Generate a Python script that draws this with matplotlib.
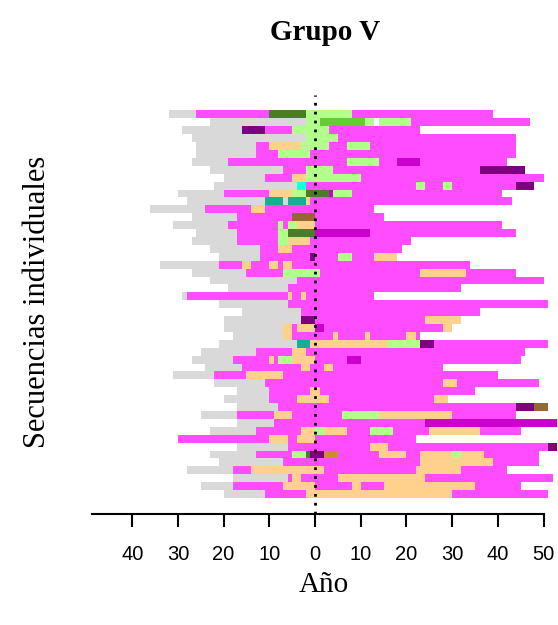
import matplotlib
matplotlib.use("Agg")
import matplotlib.pyplot as plt

# colores de los estados
colores = {
    "G": "#d9d9d9",   # gris
    "M": "#ff4cff",   # magenta
    "MM": "#cc00cc",  # magenta oscuro
    "P": "#7f007f",   # morado
    "L": "#b3ff8c",   # verde claro
    "DG": "#4a7d29",  # verde oscuro
    "BG": "#66cc33",  # verde vivo
    "T": "#ffd18c",   # crema
    "C": "#1affe0",   # cian
    "TE": "#17ae98",  # turquesa
    "B": "#996633",   # marron
    "O": "#cc8c33",   # ocre
}

# secuencias (de arriba a abajo): (estado, inicio, fin)
secuencias = [
    [("G", -32, -26), ("M", -26, -10), ("DG", -10, -2), ("L", -2, 8), ("M", 8, 39)],
    [("G", -23, -2), ("L", -2, 1), ("BG", 1, 11), ("L", 11, 13), ("L", 14, 21), ("M", 21, 47)],
    [("G", -29, -16), ("P", -16, -11), ("M", -11, -5), ("L", -5, 3), ("M", 3, 23)],
    [("G", -27, -2), ("L", -2, 5), ("M", 5, 44)],
    [("G", -26, -13), ("M", -13, -10), ("T", -10, -3), ("L", -3, 3), ("M", 3, 7), ("L", 7, 12), ("M", 12, 44)],
    [("G", -26, -13), ("M", -13, -8), ("L", -8, -1), ("M", -1, 44)],
    [("G", -27, -19), ("M", -19, 7), ("L", 7, 14), ("M", 14, 18), ("MM", 18, 23), ("M", 23, 42)],
    [("G", -23, -7), ("M", -7, -2), ("L", -2, 4), ("M", 4, 36), ("P", 36, 46)],
    [("G", -20, -11), ("M", -11, -5), ("T", -5, -2), ("L", -2, 10), ("M", 10, 50)],
    [("G", -22, -4), ("C", -4, -2), ("M", -2, 22), ("L", 22, 24), ("M", 24, 28), ("L", 28, 30), ("M", 30, 44), ("P", 44, 48)],
    [("G", -30, -20), ("M", -20, -10), ("T", -10, -5), ("L", -5, -2), ("DG", -2, 3), ("MM", 3, 4), ("L", 4, 8), ("M", 8, 41)],
    [("G", -28, -11), ("TE", -11, -7), ("G", -7, -6), ("TE", -6, -2), ("T", -2, -1), ("M", -1, 43)],
    [("G", -36, -24), ("M", -24, -14), ("T", -14, -11), ("M", -11, 13)],
    [("G", -27, -17), ("M", -17, -5), ("B", -5, 0), ("M", 0, 15)],
    [("G", -31, -19), ("M", -19, -8), ("L", -8, -7), ("M", -7, -6), ("L", -6, -4), ("T", -4, 0), ("M", 0, 41)],
    [("G", -26, -17), ("M", -17, -8), ("L", -8, -6), ("DG", -6, 0), ("MM", 0, 12), ("M", 12, 44)],
    [("G", -27, -17), ("M", -17, -8), ("L", -8, -6), ("T", -6, -1), ("M", -1, 21)],
    [("G", -23, -12), ("M", -12, -8), ("T", -8, -5), ("M", -5, 19)],
    [("G", -21, -12), ("M", -12, -1), ("P", -1, 0), ("M", 0, 5), ("L", 5, 8), ("M", 8, 13), ("T", 13, 18)],
    [("G", -34, -21), ("M", -21, -16), ("T", -16, -14), ("M", -14, -10), ("T", -10, -8), ("M", -8, -7), ("T", -7, -5), ("M", -5, 34)],
    [("G", -27, -15), ("M", -15, -7), ("L", -7, 1), ("M", 1, 23), ("T", 23, 33), ("M", 33, 44)],
    [("G", -23, -4), ("M", -4, 50)],
    [("G", -19, -6), ("M", -6, 32)],
    [("G", -29, -28), ("M", -28, -6), ("T", -6, -5), ("M", -5, -3), ("T", -3, -2), ("M", -2, 13)],
    [("G", -21, -6), ("M", -6, 51)],
    [("G", -16, -3), ("M", -3, 36)],
    [("G", -20, -3), ("P", -3, 0), ("M", 0, 24), ("T", 24, 32)],
    [("G", -20, -7), ("T", -7, -5), ("M", -5, -4), ("T", -4, 0), ("MM", 0, 2), ("M", 2, 28), ("T", 28, 30)],
    [("G", -18, -7), ("T", -7, -5), ("M", -5, 4), ("T", 4, 5), ("M", 5, 11), ("T", 11, 12), ("M", 12, 20), ("T", 20, 22), ("M", 22, 23)],
    [("G", -21, -4), ("TE", -4, -1), ("T", -1, 16), ("L", 16, 23), ("P", 23, 26), ("M", 26, 51)],
    [("G", -25, -13), ("M", -13, -5), ("T", -5, -2), ("M", -2, 46)],
    [("G", -27, -18), ("M", -18, -10), ("T", -10, -9), ("M", -9, -8), ("L", -8, -5), ("T", -5, 0), ("M", 0, 7), ("MM", 7, 10), ("M", 10, 45)],
    [("G", -24, -16), ("M", -16, -3), ("T", -3, -1), ("M", -1, 2), ("T", 2, 4), ("M", 4, 28)],
    [("G", -31, -22), ("M", -22, -15), ("T", -15, -7), ("M", -7, 40)],
    [("G", -22, -11), ("M", -11, 28), ("T", 28, 31), ("M", 31, 49)],
    [("G", -17, -10), ("M", -10, -1), ("T", -1, 1), ("M", 1, 35)],
    [("G", -20, -10), ("M", -10, -4), ("T", -4, 3), ("M", 3, 26), ("T", 26, 29)],
    [("G", -17, -8), ("M", -8, 44), ("P", 44, 48), ("B", 48, 51)],
    [("G", -25, -17), ("M", -17, -9), ("T", -9, -5), ("M", -5, 6), ("L", 6, 14), ("T", 14, 30), ("M", 30, 44)],
    [("G", -17, -9), ("M", -9, 24), ("MM", 24, 53)],
    [("G", -23, -13), ("M", -13, -3), ("T", -3, 0), ("L", 0, 2), ("T", 2, 7), ("M", 7, 12), ("L", 12, 17), ("M", 17, 25), ("T", 25, 36), ("M", 36, 45)],
    [("M", -30, -10), ("T", -10, -6), ("M", -6, -4), ("T", -4, 0), ("M", 0, 22)],
    [("G", -17, -6), ("M", -6, 12), ("T", 12, 16), ("M", 16, 51), ("P", 51, 53)],
    [("G", -23, -13), ("M", -13, -5), ("L", -5, -2), ("DG", -2, -1), ("P", -1, 2), ("O", 2, 5), ("M", 5, 14), ("T", 14, 20), ("M", 20, 23), ("T", 23, 30), ("L", 30, 32), ("T", 32, 37), ("M", 37, 49)],
    [("G", -21, -7), ("M", -7, 23), ("T", 23, 39), ("M", 39, 49)],
    [("G", -28, -18), ("M", -18, -14), ("T", -14, 2), ("M", 2, 22), ("T", 22, 32), ("M", 32, 42)],
    [("G", -18, -6), ("M", -6, -5), ("T", -5, -3), ("M", -3, 5), ("T", 5, 24), ("M", 24, 52)],
    [("G", -25, -18), ("M", -18, -7), ("T", -7, 0), ("M", 0, 8), ("T", 8, 10), ("M", 10, 15), ("T", 15, 35), ("M", 35, 45)],
    [("G", -20, -11), ("M", -11, -2), ("T", -2, 30), ("M", 30, 51)],
]

ticks = [-40, -30, -20, -10, 0, 10, 20, 30, 40, 50]
tick_labels = [str(abs(t)) for t in ticks]

fig = plt.figure(figsize=(5.58, 6.25), dpi=100)
ax = fig.add_axes([0, 111 / 625, 1, 419 / 625])

n = len(secuencias)
for i, fila in enumerate(secuencias):
    y = n - i - 0.5
    for estado, ini, fin in fila:
        ax.barh(y, fin - ini, left=ini, height=1, color=colores[estado], linewidth=0)

ax.axvline(0, color="black", linestyle=(0, (1, 2.2)), linewidth=2, zorder=5)

ax.set_xlim(-68.93, 53.17)
ax.set_ylim(-2.02, 50.95)
for s in ["top", "right", "left"]:
    ax.spines[s].set_visible(False)
ax.spines["bottom"].set_bounds(-48.8, 50)
ax.spines["bottom"].set_linewidth(1.5)
ax.set_yticks([])
ax.set_xticks(ticks)
ax.set_xticklabels(tick_labels, family="Liberation Sans", fontsize=14.5)
ax.tick_params(axis="x", length=9, width=1.5, pad=13)
ax.patch.set_alpha(0)

fig.text(0.582, 0.948, "Grupo V", ha="center", va="center", family="Liberation Serif",
         fontweight="bold", fontsize=21)
fig.text(0.068, 0.517, "Secuencias individuales", ha="center", va="center", rotation=90,
         family="Liberation Serif", fontsize=22)
fig.text(0.58, 0.064, "Año", ha="center", va="center", family="Liberation Serif", fontsize=21)

fig.savefig("out.png", dpi=100)
